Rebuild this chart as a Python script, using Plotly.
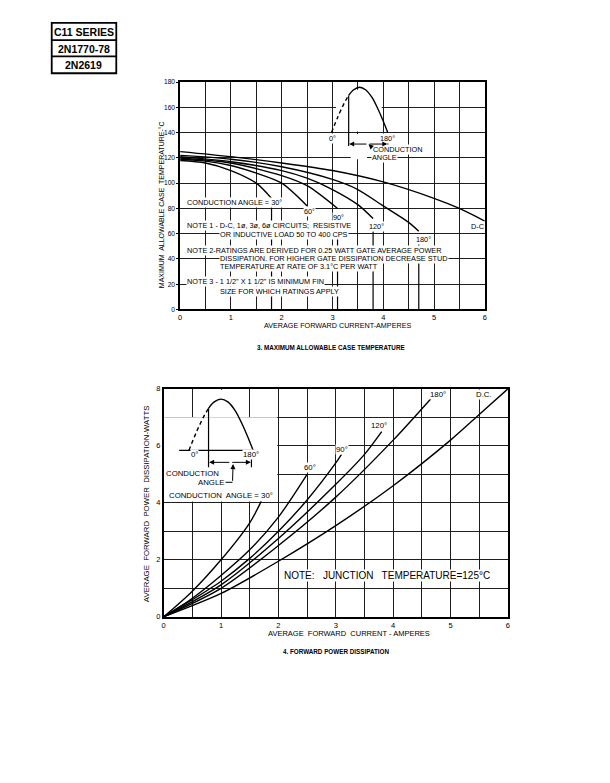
import plotly.graph_objects as go

# ---------------- data: chart 3 (max allowable case temperature) ----------------
amps_30 = [0, 0.5, 1.0, 1.5, 1.8]
temp_30 = [118, 116, 110, 100, 88]
amps_60 = [0, 0.5, 1.0, 1.5, 2.0, 2.5]
temp_60 = [119, 117.5, 114, 108, 100, 82]
amps_90 = [0, 1.0, 2.0, 2.5, 3.1]
temp_90 = [120, 116, 106, 98, 80]
amps_120 = [0, 1.0, 2.0, 2.5, 3.0, 3.5, 3.8]
temp_120 = [121, 117, 110, 104, 95, 83, 72]
amps_180 = [0, 1.0, 2.0, 3.0, 3.5, 4.0, 4.5, 4.7]
temp_180 = [122, 119, 113, 103, 95, 82, 69, 62]
amps_dc = [0, 1, 2, 3, 4, 5, 5.5, 6]
temp_dc = [125, 121, 116, 110, 101, 88, 80, 70]

# ---------------- data: chart 4 (forward power dissipation) ----------------
p_amps_30 = [0, 0.5, 1.0, 1.5, 1.7]
p_watts_30 = [0, 0.9, 2.0, 3.3, 4.05]
p_amps_60 = [0, 0.5, 1.0, 1.5, 2.0, 2.5]
p_watts_60 = [0, 0.65, 1.45, 2.35, 3.5, 5.0]
p_amps_90 = [0, 0.5, 1.0, 1.5, 2.0, 2.5, 3.0, 3.1]
p_watts_90 = [0, 0.6, 1.25, 2.05, 3.0, 4.1, 5.4, 5.7]
p_amps_120 = [0, 1.0, 2.0, 3.0, 3.5, 3.8]
p_watts_120 = [0, 1.12, 2.75, 4.65, 5.7, 6.5]
p_amps_180 = [0, 1.0, 2.0, 3.0, 4.0, 4.7]
p_watts_180 = [0, 1.0, 2.5, 4.2, 6.2, 7.75]
p_amps_dc = [0, 1, 2, 3, 4, 5, 5.5, 6]
p_watts_dc = [0, 0.82, 1.95, 3.2, 4.6, 6.2, 7.1, 8.0]

# inset half-wave sketch (phase in degrees, relative level)
wave_phase = [0, 20, 40, 55, 70, 90, 110, 130, 150, 165, 180]
wave_level = [0, 0.34, 0.64, 0.82, 0.94, 1.0, 0.94, 0.77, 0.5, 0.26, 0]
CUT = 3  # index where the conducting (solid) part begins

x_ticks = [0, 1, 2, 3, 4, 5, 6]
temp_ticks = [0, 20, 40, 60, 80, 100, 120, 140, 160, 180]
watt_ticks = [0, 2, 4, 6, 8]

# page body has an 8px margin; keep the figure inside the 610x783 window
OFF = 8
W, H = 610 - 2 * OFF, 783 - 2 * OFF
def px(x): return (x - OFF) / W
def py(y): return 1 - (y - OFF) / H

FONT = "Liberation Sans"
fig = go.Figure()

def curve(x, y, xa, ya, dash="solid"):
    fig.add_trace(go.Scatter(x=x, y=y, mode="lines", xaxis=xa, yaxis=ya,
                             line=dict(color="black", width=1.4, shape="spline",
                                       smoothing=0.8, dash=dash),
                             hoverinfo="skip", showlegend=False))

for xs, ys in [(amps_30, temp_30), (amps_60, temp_60), (amps_90, temp_90),
               (amps_120, temp_120), (amps_180, temp_180), (amps_dc, temp_dc)]:
    curve(xs, ys, "x", "y")
for xs, ys in [(p_amps_30, p_watts_30), (p_amps_60, p_watts_60), (p_amps_90, p_watts_90),
               (p_amps_120, p_watts_120), (p_amps_180, p_watts_180), (p_amps_dc, p_watts_dc)]:
    curve(xs, ys, "x2", "y2")

# inset waves
def wave(xa, ya, a0, span, base, amp):
    xs = [a0 + p / 180 * span for p in wave_phase]
    ys = [base + amp * l for l in wave_level]
    curve(xs[:CUT + 1], ys[:CUT + 1], xa, ya, dash="4px,3px")
    curve(xs[CUT:], ys[CUT:], xa, ya)
    return xs, ys

wx1, wy1 = wave("x", "y", 2.98, 1.11, 140, 36)
wx2, wy2 = wave("x2", "y2", 0.44, 1.12, 5.84, 1.8)

axis_common = dict(showline=True, linecolor="black", linewidth=1.6, mirror=True,
                   showgrid=True, gridcolor="#1e1e1e", gridwidth=1, zeroline=False)
minor_x = dict(dtick=0.5, showgrid=True, gridcolor="#1e1e1e", gridwidth=1, ticks="")
tf = dict(family=FONT, size=7.5, color="black")

fig.update_layout(
    width=W, height=H, margin=dict(l=0, r=0, t=0, b=0),
    paper_bgcolor="white", plot_bgcolor="white", showlegend=False,
    xaxis=dict(domain=[px(179.3), px(486)], range=[0, 6], anchor="y",
               tickvals=x_ticks, ticks="", minor=minor_x, tickfont=tf, **axis_common),
    yaxis=dict(domain=[py(309), py(79)], range=[0, 180], anchor="x",
               tickvals=temp_ticks, ticks="outside", ticklen=2, tickcolor="black",
               tickfont=dict(family=FONT, size=6.6, color="black"), **axis_common),
    xaxis2=dict(domain=[px(162.7), px(509.3)], range=[0, 6], anchor="y2",
                tickvals=x_ticks, ticks="", minor=minor_x, tickfont=tf, **axis_common),
    yaxis2=dict(domain=[py(620), py(389.3)], range=[0, 8], anchor="x2",
                tickvals=watt_ticks, ticks="", tickfont=tf,
                minor=dict(dtick=1, showgrid=True, gridcolor="#1e1e1e", gridwidth=1, ticks=""),
                **axis_common),
)

shapes = []
def line(x0, y0, x1, y1, xr="x", yr="y", w=1.2, layer="between"):
    shapes.append(dict(type="line", x0=x0, y0=y0, x1=x1, y1=y1, xref=xr, yref=yr,
                       line=dict(color="black", width=w), layer=layer))
def white(x0, y0, x1, y1, xr="x", yr="y"):
    shapes.append(dict(type="rect", x0=x0, y0=y0, x1=x1, y1=y1, xref=xr, yref=yr,
                       fillcolor="white", line=dict(width=0), layer="between"))

# drop lines from curve endpoints (chart 3)
for xs, top in [(amps_30, 81), (amps_90, 70), (amps_120, 62), (amps_180, 52)]:
    line(xs[-1], 0, xs[-1], top)

# top inset clearing + dimension
white(3.07, 141, 3.97, 174)
white(3.36, 119, 3.68, 139)
line(wx1[CUT], wy1[CUT], wx1[CUT], 129.5)
line(wx1[-1], 129, wx1[-1], 133)

# bottom inset clearing + drawing
white(0.0, 4.05, 1.98, 7.0, "x2", "y2")
white(0.55, 7.0, 1.45, 7.97, "x2", "y2")
line(0.27, 5.84, 1.6, 5.84, "x2", "y2")
line(wx2[CUT], wy2[CUT], wx2[CUT], 5.25, "x2", "y2")
line(wx2[-1] - 0.03, 5.25, wx2[-1] - 0.03, 5.58, "x2", "y2")
line(1.08, 4.72, 1.2, 4.72, "x2", "y2", w=1)

# header box
shapes.append(dict(type="rect", xref="paper", yref="paper", x0=px(50), x1=px(115),
                   y0=py(70), y1=py(19), line=dict(color="black", width=1.8)))
for yy in (36.5, 53):
    shapes.append(dict(type="line", xref="paper", yref="paper", x0=px(50), x1=px(115),
                       y0=py(yy), y1=py(yy), line=dict(color="black", width=1.8)))
fig.update_layout(shapes=shapes)

ann = []
def txt(x, y, s, xr="x", yr="y", size=7.3, xa="left", bg="white", bold=False, angle=0):
    ann.append(dict(x=x, y=y, xref=xr, yref=yr, text=("<b>%s</b>" % s) if bold else s,
                    showarrow=False, xanchor=xa, yanchor="middle", textangle=angle,
                    bgcolor=bg, borderpad=0,
                    font=dict(family=FONT, size=size, color="black")))
def arrow(x, y, ax, ay, xr="x", yr="y"):
    ann.append(dict(x=x, y=y, ax=ax, ay=ay, xref=xr, yref=yr, axref=xr, ayref=yr,
                    text="", showarrow=True, arrowhead=2, arrowsize=1, arrowwidth=1,
                    arrowcolor="black"))

# chart 3 labels
txt(0.11, 84.5, "CONDUCTION ANGLE = 30°")
txt(2.54, 77.5, "60°", xa="center")
txt(3.11, 72.8, "90°", xa="center")
txt(3.86, 65.7, "120°", xa="center")
txt(4.79, 55.3, "180°", xa="center")
txt(5.85, 65.7, "D-C", xa="center")
txt(0.11, 66.3, "NOTE 1 - D-C, 1ø, 3ø, 6ø CIRCUITS;  RESISTIVE")
txt(0.76, 59.7, "OR INDUCTIVE LOAD 50 TO 400 CPS")
txt(0.11, 47.0, "NOTE 2-RATINGS ARE DERIVED FOR 0.25 WATT GATE AVERAGE POWER")
txt(0.76, 40.7, "DISSIPATION. FOR HIGHER GATE DISSIPATION DECREASE STUD")
txt(0.76, 34.4, "TEMPERATURE AT RATE OF 3.1°C PER WATT")
txt(0.11, 22.2, "NOTE 3 - 1 1/2\" X 1 1/2\" IS MINIMUM FIN")
txt(0.76, 14.1, "SIZE FOR WHICH RATINGS APPLY")
# top inset labels
txt(3.01, 135.6, "0°", xa="center")
txt(4.09, 135.6, "180°", xa="center")
txt(4.28, 126.5, "CONDUCTION", xa="center")
txt(4.03, 120.5, "ANGLE", xa="center")
arrow(wx1[CUT] + 0.01, 131, 3.7, 131)
arrow(wx1[-1] - 0.01, 131, 3.7, 131)
arrow(3.71, 130.8, 3.80, 127.6)

# chart 4 labels
txt(0.07, 4.25, "CONDUCTION  ANGLE = 30°", "x2", "y2", size=7.8)
txt(0.5, 5.03, "CONDUCTION", "x2", "y2", size=7.8, xa="center")
txt(0.83, 4.72, "ANGLE", "x2", "y2", size=7.8, xa="center")
txt(0.53, 5.69, "0°", "x2", "y2", size=7.8, xa="center")
txt(1.52, 5.69, "180°", "x2", "y2", size=7.8, xa="center")
txt(2.55, 5.23, "60°", "x2", "y2", size=7.8, xa="center")
txt(3.11, 5.87, "90°", "x2", "y2", size=7.8, xa="center")
txt(3.76, 6.70, "120°", "x2", "y2", size=7.8, xa="center")
txt(4.79, 7.80, "180°", "x2", "y2", size=7.8, xa="center")
txt(5.58, 7.80, "D.C.", "x2", "y2", size=7.8, xa="center")
txt(2.08, 1.46, "NOTE:   JUNCTION   TEMPERATURE=125°C", "x2", "y2", size=10)
arrow(wx2[CUT] + 0.01, 5.42, 1.17, 5.42, "x2", "y2")
arrow(wx2[-1] - 0.04, 5.42, 1.17, 5.42, "x2", "y2")
arrow(1.21, 5.36, 1.2, 4.72, "x2", "y2")

# titles / captions (pixel positions on the page)
txt(px(160.5), py(203), "MAXIMUM  ALLOWABLE CASE  TEMPERATURE-°C", "paper", "paper",
    size=7.0, xa="center", bg=None, angle=-90)
txt(px(338), py(325.5), "AVERAGE FORWARD CURRENT-AMPERES", "paper", "paper", size=7.2,
    xa="center", bg=None)
txt(px(331), py(347), "3. MAXIMUM ALLOWABLE CASE TEMPERATURE", "paper", "paper", size=6.3,
    xa="center", bg=None, bold=True)
txt(px(145), py(506), "AVERAGE  FORWARD  POWER  DISSIPATION-WATTS", "paper", "paper",
    size=7.8, xa="center", bg=None, angle=-90)
txt(px(349), py(637), "AVERAGE  FORWARD  CURRENT - AMPERES", "paper", "paper", size=7.5,
    xa="center", bg=None)
txt(px(336), py(655), "4. FORWARD POWER DISSIPATION", "paper", "paper", size=6.3,
    xa="center", bg=None, bold=True)
# header
txt(px(82.5), py(28), "C11 SERIES", "paper", "paper", size=10.5, xa="center", bg=None, bold=True)
txt(px(82.5), py(45), "2N1770-78", "paper", "paper", size=10.5, xa="center", bg=None, bold=True)
txt(px(82.5), py(61.5), "2N2619", "paper", "paper", size=10.5, xa="center", bg=None, bold=True)

fig.update_layout(annotations=ann)
fig.write_html("out.html")
